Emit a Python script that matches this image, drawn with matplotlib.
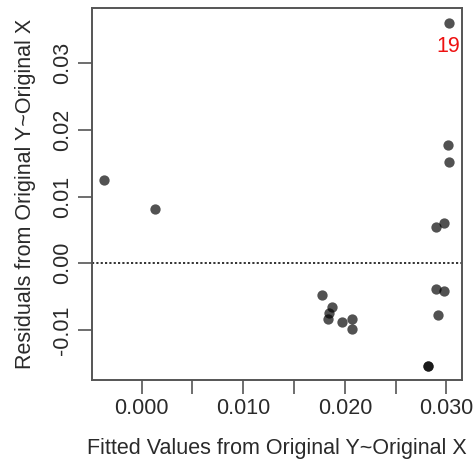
import matplotlib
matplotlib.use("Agg")
import matplotlib.pyplot as plt

plt.rcParams['font.family'] = ['Liberation Sans', 'DejaVu Sans']

fitted = [0.03025, 0.03012, 0.03025, -0.00371, 0.00131, 0.02897, 0.02975,
          0.01778, 0.01876, 0.01847, 0.01830, 0.01968, 0.02070, 0.02070,
          0.02897, 0.02975, 0.02913, 0.02815, 0.02815]
resid = [0.03607, 0.01769, 0.01514, 0.01244, 0.00814, 0.00540, 0.00604,
         -0.00475, -0.00660, -0.00750, -0.00835, -0.00880, -0.00830, -0.00985,
         -0.00390, -0.00410, -0.00770, -0.01540, -0.01540]
label_text = "19"
label_idx = 0
xticks = [0.000, 0.005, 0.010, 0.015, 0.020, 0.025, 0.030]
xticklabels = ["0.000", "", "0.010", "", "0.020", "", "0.030"]
yticks = [-0.01, 0.00, 0.01, 0.02, 0.03]
yticklabels = ["-0.01", "0.00", "0.01", "0.02", "0.03"]

fig = plt.figure(figsize=(4.77, 4.66), dpi=100)
ax = fig.add_axes([0.1922, 0.1845, 0.9692 - 0.1922, 0.9822 - 0.1845])

ax.scatter(fitted, resid, s=55, color='black', alpha=0.68, linewidths=0, zorder=3)
ax.axhline(0, color='#222222', linestyle=(0, (1.2, 1.2)), linewidth=1.3, zorder=2)
ax.text(fitted[label_idx] - 0.00005, resid[label_idx] - 0.0035, label_text,
        color='#ee1111', fontsize=15.5, ha='center', va='center', clip_on=True)

ax.set_xlim(-0.00492, 0.03156)
ax.set_ylim(-0.0175, 0.03823)
ax.set_xticks(xticks)
ax.set_xticklabels(xticklabels)
ax.set_yticks(yticks)
ax.set_yticklabels(yticklabels, rotation=90, va='center')

for sp in ax.spines.values():
    sp.set_color('#555555')
    sp.set_linewidth(1.4)
ax.tick_params(axis='both', direction='out', length=9.8, width=1.2,
               color='#555555', labelsize=15.5, labelcolor='#2a2a2a', pad=3.5)

ax.set_xlabel("Fitted Values from Original Y~Original X", fontsize=15.5,
              color='#2a2a2a', labelpad=13)
ax.set_ylabel("Residuals from Original Y~Original X", fontsize=15.5,
              color='#2a2a2a', labelpad=12)

fig.savefig("out.png", dpi=100)
